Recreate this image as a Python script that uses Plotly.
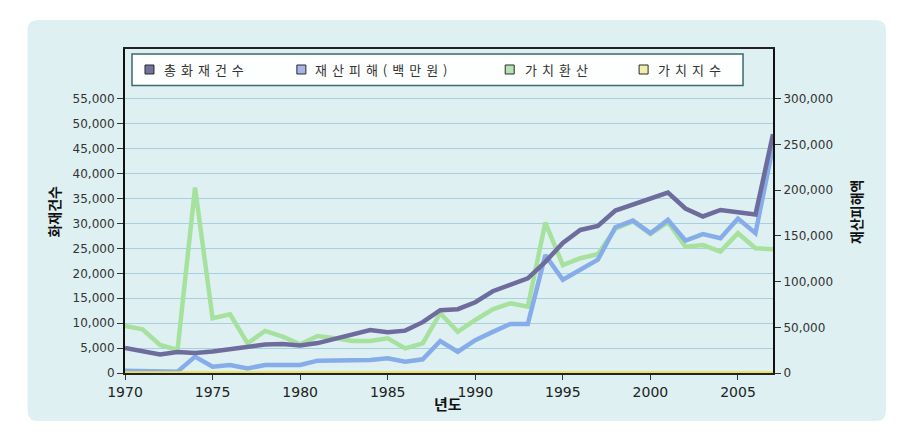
import plotly.graph_objects as go

years = list(range(1970, 2008))

fires = [5000, 4400, 3700, 4200, 4000, 4300, 4700, 5300, 5700, 5800,
         5500, 6000, 6800, 7600, 8600, 8200, 8500, 10200, 12600, 12800,
         14200, 16400, 17600, 19000, 22300, 26100, 28700, 29500, 32600, 33800,
         34800, 36200, 33000, 31400, 32700, 32300, 31800, 47900]

damage = [2500, 2300, 2000, 1500, 17900, 6900, 8700, 5100, 8700, 9000,
          8700, 13500, 13500, 13500, 14200, 16000, 12400, 15000, 35000, 23300,
          36000, 45000, 53600, 53600, 129000, 102000, 113000, 124000, 159500, 166800,
          153000, 167500, 144900, 152000, 147500, 169000, 153000, 248000]

converted = [51500, 47800, 30700, 25200, 203000, 59900, 64300, 32500, 46000, 39800,
             31400, 40500, 38000, 35000, 35000, 38000, 27000, 32500, 65400, 45000,
             58000, 69700, 76300, 72600, 164600, 118000, 125600, 130000, 158000, 166000,
             152000, 165000, 138300, 140000, 132800, 153000, 136500, 135400]

index_vals = [0, 0, 0, 0, 0, 0, 0, 0, 0, 0,
              0, 0, 0, 0, 0, 0, 0, 0, 0, 0,
              0, 0, 0, 0, 0, 0, 0, 0, 0, 0,
              0, 0, 0, 0, 0, 0, 0, 0]

series_names = ["총화재건수", "재산피해(백만원)", "가치환산", "가치지수"]
line_colors = ["#6e6c9c", "#86acea", "#a6e29e", "#ece24a"]
legend_fills = ["#72729e", "#a6b4e6", "#b6e2b0", "#f2f0a6"]

left_ticks = list(range(0, 55001, 5000))
right_ticks = list(range(0, 300001, 50000))
x_ticks = list(range(1970, 2006, 5))

W, H = 916, 442
L, R, T, B = 124.5, 773, 49, 373
pw, ph = R - L, B - T


def px(x):
    return (x - L) / pw


def py(y):
    return (B - y) / ph


fig = go.Figure()

# draw order: green & blue on right axis (y2), yellow & purple on left axis (y, overlaying)
fig.add_trace(go.Scatter(x=years, y=converted, yaxis="y2", mode="lines",
                         line=dict(color=line_colors[2], width=4.5),
                         name=series_names[2], showlegend=False))
fig.add_trace(go.Scatter(x=years, y=damage, yaxis="y2", mode="lines",
                         line=dict(color=line_colors[1], width=4.5),
                         name=series_names[1], showlegend=False))
fig.add_trace(go.Scatter(x=years, y=index_vals, yaxis="y", mode="lines",
                         line=dict(color=line_colors[3], width=3.5),
                         name=series_names[3], showlegend=False))
fig.add_trace(go.Scatter(x=years, y=fires, yaxis="y", mode="lines",
                         line=dict(color=line_colors[0], width=4.5),
                         name=series_names[0], showlegend=False))

# panel with rounded corners
x0, x1, y0, y1 = 27, 886, 20, 421
r = 10
rx, ry = r / pw, r / ph
X0, X1, Y0, Y1 = px(x0), px(x1), py(y0), py(y1)
path = (f"M {X0+rx},{Y0} L {X1-rx},{Y0} Q {X1},{Y0} {X1},{Y0-ry} "
        f"L {X1},{Y1+ry} Q {X1},{Y1} {X1-rx},{Y1} "
        f"L {X0+rx},{Y1} Q {X0},{Y1} {X0},{Y1+ry} "
        f"L {X0},{Y0-ry} Q {X0},{Y0} {X0+rx},{Y0} Z")

shapes = [dict(type="path", xref="paper", yref="paper", path=path,
               fillcolor="#def0f1", line=dict(width=0), layer="below")]

# legend box
shapes.append(dict(type="rect", xref="paper", yref="paper",
                   x0=px(131.5), x1=px(743), y0=py(54), y1=py(85.5),
                   fillcolor="#fdfefe", line=dict(color="#3d6a6e", width=1.5),
                   layer="above"))

marker_x = [144.5, 296.5, 505, 639]
text_x = [162, 313, 523, 656]
annotations = []
for i in range(4):
    shapes.append(dict(type="rect", xref="paper", yref="paper",
                       x0=px(marker_x[i]), x1=px(marker_x[i] + 9),
                       y0=py(65), y1=py(74),
                       fillcolor=legend_fills[i], line=dict(color="#2a2a2a", width=1),
                       layer="above"))
    annotations.append(dict(xref="paper", yref="paper", x=px(text_x[i]), y=py(69.5),
                            xanchor="left", yanchor="middle", showarrow=False,
                            text=f'<span style="letter-spacing:5px">{series_names[i]}</span>',
                            font=dict(family="Noto Sans CJK KR", size=13, color="#333333")))

annotations.append(dict(xref="paper", yref="paper", x=px(53), y=py(212),
                        text="<b>화재건수</b>", textangle=-90, showarrow=False,
                        xanchor="center", yanchor="middle",
                        font=dict(family="Noto Sans CJK KR", size=14, color="#111111")))
annotations.append(dict(xref="paper", yref="paper", x=px(856), y=py(212),
                        text="<b>재산피해액</b>", textangle=-90, showarrow=False,
                        xanchor="center", yanchor="middle",
                        font=dict(family="Noto Sans CJK KR", size=14, color="#111111")))
annotations.append(dict(xref="paper", yref="paper", x=px(448), y=py(403),
                        text="<b>년도</b>", showarrow=False,
                        xanchor="center", yanchor="middle",
                        font=dict(family="Noto Sans CJK KR", size=15, color="#111111")))

tickfont = dict(family="DejaVu Sans", size=12, color="#333333")

fig.update_layout(
    width=W, height=H,
    margin=dict(l=L, r=W - R, t=T, b=H - B, pad=0),
    paper_bgcolor="white",
    plot_bgcolor="rgba(0,0,0,0)",
    showlegend=False,
    shapes=shapes,
    annotations=annotations,
    xaxis=dict(range=[1970, 2007], tickvals=x_ticks, ticks="outside", ticklen=5,
               tickcolor="#333", tickfont=dict(family="DejaVu Sans", size=14, color="#222"),
               showline=True, linecolor="#222", linewidth=1.5, mirror=True,
               showgrid=False, zeroline=False, layer="below traces"),
    yaxis=dict(range=[0, 65000], tickvals=left_ticks, tickformat=",", ticks="outside",
               ticklen=6, tickcolor="#333", tickfont=tickfont,
               showline=True, linecolor="#111", linewidth=2,
               showgrid=True, gridcolor="#a6cfe0", gridwidth=1, zeroline=False,
               overlaying="y2", side="left", layer="below traces"),
    yaxis2=dict(range=[0, 300000 * 65000 / 55000], tickvals=right_ticks, tickformat=",",
                ticks="outside", ticklen=6, tickcolor="#333", tickfont=tickfont,
                showline=True, linecolor="#111", linewidth=2,
                showgrid=False, zeroline=False, side="right", layer="below traces"),
)

fig.write_html("out.html")
